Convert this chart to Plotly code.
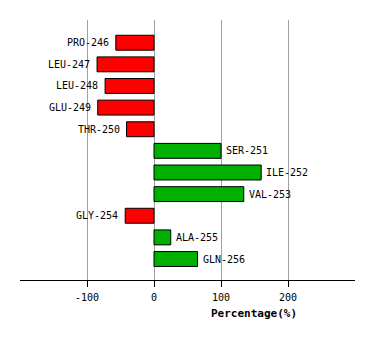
import plotly.graph_objects as go

residues = ["PRO-246", "LEU-247", "LEU-248", "GLU-249", "THR-250", "SER-251",
            "ILE-252", "VAL-253", "GLY-254", "ALA-255", "GLN-256"]
values = [-57, -85, -73, -84, -41, 100, 160, 134, -43, 25, 65]
tick_vals = [-100, 0, 100, 200]
tick_text = ["-100", "0", "100", "200"]

colors = ["#FF0000" if v < 0 else "#00B000" for v in values]
ypos = list(range(len(residues)))

fig = go.Figure()
fig.add_trace(go.Bar(
    x=values, y=ypos, orientation="h", width=0.69,
    marker=dict(color=colors, line=dict(color="black", width=1)),
    hoverinfo="skip",
))

font = dict(family="DejaVu Sans Mono", size=10, color="black")
for r, v, y in zip(residues, values, ypos):
    fig.add_annotation(
        x=v, y=y, text=r, showarrow=False, font=font,
        xanchor="right" if v < 0 else "left",
        xshift=-5 if v < 0 else 3, yanchor="middle",
    )

fig.add_annotation(
    xref="paper", yref="paper", x=0.70, y=-0.13, text="<b>Percentage(%)</b>",
    showarrow=False, font=dict(family="DejaVu Sans Mono", size=11, color="black"),
    xanchor="center", yanchor="middle",
)

fig.update_layout(
    width=374, height=340,
    margin=dict(l=20, r=19, t=20, b=60),
    paper_bgcolor="white", plot_bgcolor="white",
    showlegend=False,
    xaxis=dict(range=[-200, 300], tickvals=tick_vals, ticktext=tick_text,
               showgrid=True, gridcolor="#A0A0A0", gridwidth=1,
               zeroline=False, showline=True, linecolor="black", linewidth=1,
               ticks="outside", ticklen=6, tickcolor="black",
               ticklabelstandoff=2,
               tickfont=font, fixedrange=True),
    yaxis=dict(range=[10.97, -1.05], showgrid=False, zeroline=False,
               showticklabels=False, showline=False, fixedrange=True),
)

fig.write_html("out.html")
